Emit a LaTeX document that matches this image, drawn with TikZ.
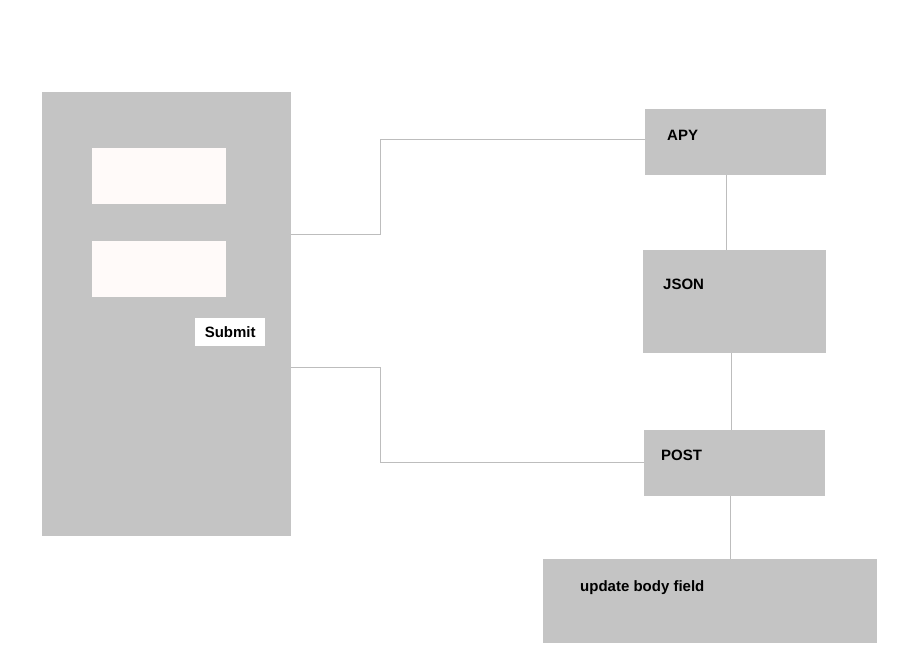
\documentclass[tikz,border=0pt]{standalone}
\usepackage{fontspec}
\setmainfont{Liberation Sans}
\begin{document}
\begin{tikzpicture}[x=1pt,y=-1pt,
  box/.style={fill=boxgrey,draw=none,inner sep=0pt,anchor=north west},
  field/.style={fill=fieldwhite,draw=none,inner sep=0pt,anchor=north west},
  lbl/.style={font=\bfseries\fontsize{15}{17}\selectfont,text=black,inner sep=0pt,anchor=west},
  conn/.style={draw=linegrey,line width=0.8pt}]
\definecolor{boxgrey}{HTML}{C4C4C4}
\definecolor{fieldwhite}{HTML}{FFFAF9}
\definecolor{linegrey}{HTML}{BDBDBD}
\useasboundingbox (0,0) rectangle (907,660);
\fill[white] (0,0) rectangle (907,660);
% left form panel
\node[box,minimum width=249pt,minimum height=444pt] (panel) at (42,92) {};
\node[field,minimum width=134pt,minimum height=56pt] (in1) at (92,148) {};
\node[field,minimum width=134pt,minimum height=56pt] (in2) at (92,241) {};
\node[fill=white,inner sep=0pt,anchor=north west,minimum width=70pt,minimum height=28pt] (sub) at (195,318) {};
\node[lbl,anchor=center] (subt) at (sub.center) {Submit};
% right boxes
\node[box,minimum width=181pt,minimum height=66pt] (apy) at (645,109) {};
\node[lbl] (apyt) at (667,135) {APY};
\node[box,minimum width=183pt,minimum height=103pt] (json) at (643,250) {};
\node[lbl] (jsont) at (663,284) {JSON};
\node[box,minimum width=181pt,minimum height=66pt] (post) at (644,430) {};
\node[lbl] (postt) at (661,455) {POST};
\node[box,minimum width=334pt,minimum height=84pt] (upd) at (543,559) {};
\node[lbl] (updt) at (580,588) {update body field};
% connectors
\coordinate (p1) at (291,234);
\coordinate (p2) at (291,367);
\draw[conn] (p1) -- (380,234) -- (380,139) -- (apy.west |- 0,139);
\draw[conn] (p2) -- (380,367) -- (380,462) -- (post.west |- 0,462);
\draw[conn] (apy.south -| 726,0) -- (json.north -| 726,0);
\draw[conn] (json.south -| 731,0) -- (post.north -| 731,0);
\draw[conn] (post.south -| 730,0) -- (upd.north -| 730,0);
\end{tikzpicture}
\end{document}
